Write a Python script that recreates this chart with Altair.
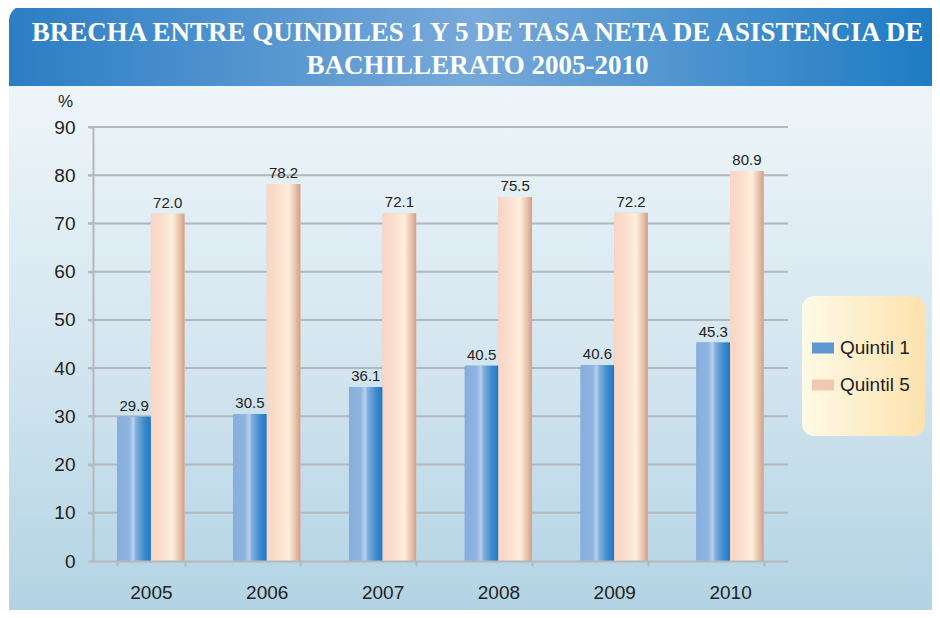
import altair as alt
import pandas as pd

years = ["2005", "2006", "2007", "2008", "2009", "2010"]
quintil1 = [29.9, 30.5, 36.1, 40.5, 40.6, 45.3]
quintil5 = [72.0, 78.2, 72.1, 75.5, 72.2, 80.9]
series = ["Quintil 1", "Quintil 5"]
y_ticks = [10, 20, 30, 40, 50, 60, 70, 80, 90]

title_lines = ["BRECHA ENTRE QUINDILES 1 Y 5 DE TASA NETA DE ASISTENCIA DE",
               "BACHILLERATO 2005-2010"]

W, H = 695, 434
FONT = "Liberation Sans"

rows = []
for y, a, b in zip(years, quintil1, quintil5):
    rows.append({"year": y, "serie": series[0], "value": a})
    rows.append({"year": y, "serie": series[1], "value": b})
df = pd.DataFrame(rows)

one = pd.DataFrame({"a": [0]})


def lin(stops, x2=1, y2=0):
    return alt.LinearGradient(
        gradient="linear", x1=0, y1=0, x2=x2, y2=y2,
        stops=[alt.GradientStop(offset=o, color=c) for o, c in stops])


# decorative background panel (vertical gradient)
bg = alt.Chart(one).mark_rect(
    fill=lin([(0, "#eef5f9"), (0.5, "#d4e6f0"), (1, "#b1d2e3")], x2=0, y2=1),
    cornerRadiusBottomLeft=12,
).encode(x=alt.value(-84), x2=alt.value(W + 150), y=alt.value(-41), y2=alt.value(H + 60))

# decorative title banner
banner = alt.Chart(one).mark_rect(
    fill=lin([(0, "#2b7ec4"), (0.5, "#78a9da"), (1, "#1d7bc3")]),
    cornerRadiusTopLeft=16,
).encode(x=alt.value(-84), x2=alt.value(W + 150), y=alt.value(-122), y2=alt.value(-41))

# decorative legend panel
legbox = alt.Chart(one).mark_rect(
    fill=lin([(0, "#fffae6"), (1, "#fde2ae")]),
    cornerRadius=12,
).encode(x=alt.value(709), x2=alt.value(832), y=alt.value(169), y2=alt.value(309))

# gridlines
grid = alt.Chart(pd.DataFrame({"v": y_ticks})).mark_rule(
    color="#b4b8bc", strokeWidth=2
).encode(
    y=alt.Y("v:Q", scale=alt.Scale(domain=[0, 90], nice=False)),
    x=alt.value(-5), x2=alt.value(W),
)

xenc = alt.X("year:N", sort=years, title=None,
             scale=alt.Scale(paddingInner=0.42, paddingOuter=0.21),
             axis=alt.Axis(labelAngle=0, labelFontSize=19, labelColor="#231f20",
                           labelFont=FONT, labelPadding=17, tickBand="extent",
                           tickSize=5, tickColor="#b4b8bc", tickWidth=2,
                           domainColor="#b4b8bc", domainWidth=2, zindex=1))
yenc = alt.Y("value:Q", scale=alt.Scale(domain=[0, 90], nice=False),
             title="%",
             axis=alt.Axis(values=[0] + y_ticks, grid=False, labelFontSize=19,
                           labelColor="#231f20", labelFont=FONT, labelPadding=13,
                           tickSize=5, tickColor="#b4b8bc", tickWidth=2,
                           domainColor="#b4b8bc", domainWidth=2,
                           titleAngle=0, titleX=-28, titleY=-26,
                           titleAlign="center", titleBaseline="middle",
                           titleFontSize=17, titleFontWeight="normal",
                           titleColor="#231f20", titleFont=FONT, zindex=1))
xoff = alt.XOffset("serie:N", scale=alt.Scale(domain=series, paddingInner=0, paddingOuter=0))

base = alt.Chart(df).encode(x=xenc, y=yenc, xOffset=xoff)

legend_bars = base.mark_bar().encode(
    color=alt.Color("serie:N", scale=alt.Scale(domain=series, range=["#5f97d3", "#f0c9b4"]),
                    legend=alt.Legend(title=None, orient="none", legendX=719, legendY=210,
                                      symbolType="M-1,-0.5H1V0.5H-1Z", symbolSize=484,
                                      symbolStrokeWidth=0, labelFontSize=19, labelFont=FONT,
                                      labelColor="#231f20", labelOffset=6, rowPadding=16,
                                      padding=0))
)

q1 = base.mark_bar(fill=lin([(0, "#86aedd"), (0.35, "#8fb4e0"), (0.48, "#b9d1ec"),
                             (0.55, "#86afdf"), (0.8, "#3d8bcd"), (1, "#1f78c2")])
                   ).transform_filter(alt.datum.serie == series[0])
q5 = base.mark_bar(fill=lin([(0, "#f9d5c4"), (0.35, "#fbdfcf"), (0.65, "#fdefdb"),
                             (0.85, "#e8c3ab"), (1, "#cf9f89")])
                   ).transform_filter(alt.datum.serie == series[1])

labels = base.mark_text(dy=-11, fontSize=15, font=FONT, color="#231f20").encode(
    text=alt.Text("value:Q", format=".1f"))

chart = alt.layer(bg, banner, legbox, grid, legend_bars, q1, q5, labels).properties(
    width=W, height=H,
    autosize=alt.AutoSizeParams(type="none"),
    padding={"left": 85, "top": 119, "right": 144, "bottom": 49},
    background="white",
    title=alt.TitleParams(text=title_lines, frame="group", anchor="middle", dx=37,
                          orient="top", offset=-75, font="Liberation Serif",
                          fontWeight="bold", fontSize=27, color="white", lineHeight=33),
).configure_view(stroke=None)

chart.save("out.html", embed_options={"renderer": "svg", "actions": False})
